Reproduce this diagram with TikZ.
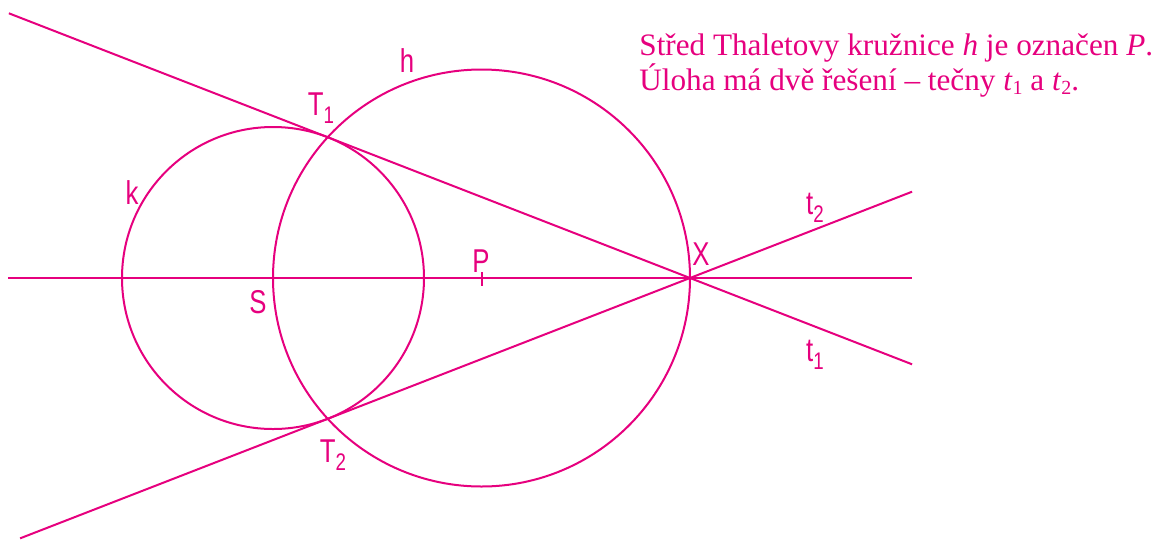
\documentclass[tikz,border=0pt]{standalone}
\usepackage{fontspec}
\setmainfont{Liberation Serif}
\newfontfamily\lblfont[FakeStretch=0.78]{Liberation Sans}
\usepackage{xcolor}
\usepackage{tikz}
\usetikzlibrary{calc}
\definecolor{mag}{RGB}{230,0,126}
\newcommand{\lsub}[1]{\raisebox{-0.45ex}{\fontsize{12}{12}\selectfont #1}}
\newcommand{\tsub}[1]{\raisebox{-0.3ex}{\fontsize{10}{10}\selectfont #1}}

\begin{document}
\begin{tikzpicture}[
    x=0.5pt, y=-0.5pt,
    geo/.style={mag,line width=1pt},
    lbl/.style={mag,font=\lblfont\fontsize{16.5}{16.5}\selectfont,inner sep=0pt},
  ]
  \useasboundingbox (0,0) rectangle (1166,542);

  % points
  \coordinate (S) at (273,278);
  \coordinate (X) at (690,278);
  \coordinate (P) at ($(S)!0.5!(X)$);
  \coordinate (T1) at (327.7,137.2);
  \coordinate (T2) at (327.7,418.8);

  % circles k and h (Thales)
  \draw[geo] (S) circle[radius=151];
  \draw[geo] (P) circle[radius=208.5];

  % central line and tangents
  \coordinate (a0) at (8,278);
  \coordinate (a1) at (912,278);
  \draw[geo] (a0) -- (a1);
  \coordinate (t1a) at ($(T1)!-0.88!(X)$);
  \coordinate (t1b) at ($(T1)!1.613!(X)$);
  \coordinate (t2a) at ($(T2)!-0.849!(X)$);
  \coordinate (t2b) at ($(T2)!1.613!(X)$);
  \draw[geo] (t1a) -- (t1b);
  \draw[geo] (t2a) -- (t2b);
  \draw[geo] ($(P)+(0,-6)$) -- ($(P)+(0,8)$);

  % labels
  \node[lbl] (lh)  at (407,61)  {h};
  \node[lbl] (lT1) at (321,108) {T\lsub{1}};
  \node[lbl] (lk)  at (132,193) {k};
  \node[lbl] (lS)  at (258,302) {S};
  \node[lbl] (lP)  at (481,261) {P};
  \node[lbl] (lX)  at (701,254) {X};
  \node[lbl] (lt2) at (815,208) {t\lsub{2}};
  \node[lbl] (lt1) at (815,355) {t\lsub{1}};
  \node[lbl] (lT2) at (333,455) {T\lsub{2}};

  % note
  \node[mag,anchor=north west,align=left,inner sep=0pt,
        font=\fontsize{15.6}{15.5}\selectfont] (note) at (639,33) {%
    Střed Thaletovy kružnice \textit{h} je označen \textit{P}.\\
    Úloha má dvě řešení – tečny \textit{t}\tsub{1} a \textit{t}\tsub{2}.};
\end{tikzpicture}
\end{document}
